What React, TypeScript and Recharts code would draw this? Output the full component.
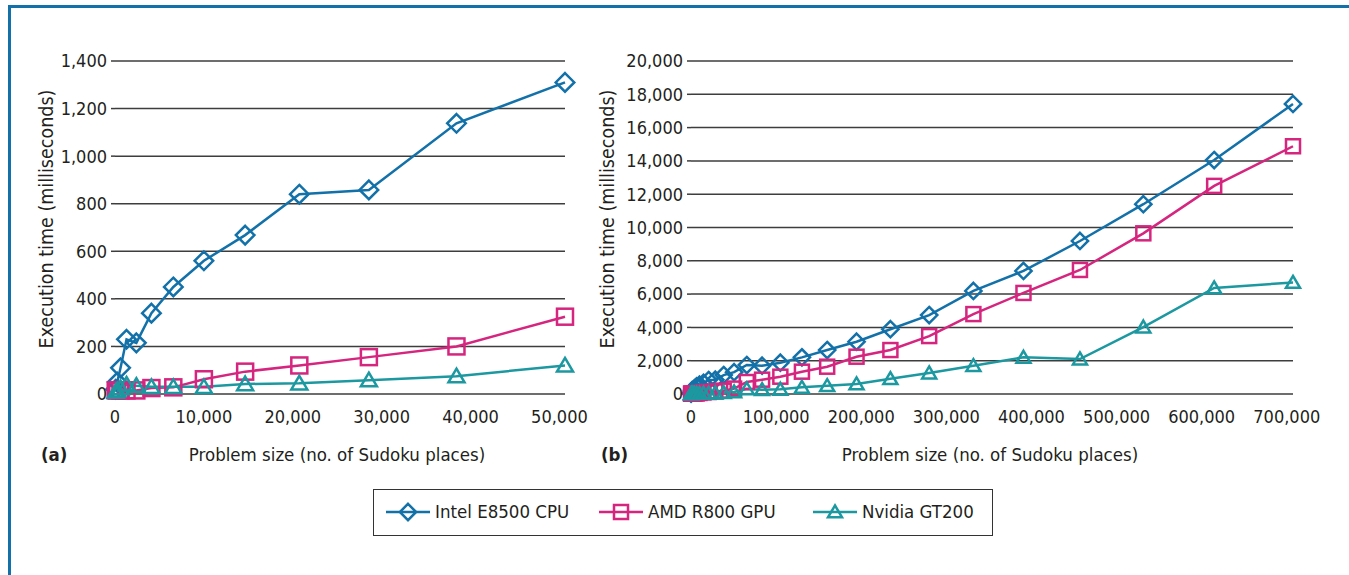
import React from "react";
import { LineChart, Line, XAxis, YAxis, CartesianGrid } from "recharts";

// problem sizes are n^4 Sudoku places, n = 3..29
const sizes = [
  81, 256, 625, 1296, 2401, 4096, 6561, 10000, 14641, 20736, 28561, 38416, 50625,
  65536, 83521, 104976, 130321, 160000, 194481, 234256, 279841, 331776, 390625,
  456976, 531441, 614656, 707281,
];
const intelMs = [
  20, 50, 110, 230, 215, 340, 450, 560, 668, 840, 858, 1138, 1310,
  1740, 1700, 1880, 2200, 2640, 3140, 3890, 4740, 6190, 7390, 9190, 11400, 14050, 17420,
];
const amdMs = [
  15, 15, 15, 15, 15, 25, 28, 62, 94, 120, 155, 200, 325,
  720, 860, 1040, 1340, 1640, 2240, 2640, 3480, 4800, 6070, 7450, 9650, 12500, 14880,
];
const nvidiaMs = [
  10, 15, 25, 40, 35, 30, 30, 30, 42, 45, 58, 75, 120,
  300, 260, 280, 400, 500, 600, 920, 1260, 1700, 2200, 2100, 4020, 6370, 6700,
];

const leftXTicks = [0, 10000, 20000, 30000, 40000, 50000];
const leftYTicks = [0, 200, 400, 600, 800, 1000, 1200, 1400];
const rightXTicks = [0, 100000, 200000, 300000, 400000, 500000, 600000, 700000];
const rightYTicks = [0, 2000, 4000, 6000, 8000, 10000, 12000, 14000, 16000, 18000, 20000];

const seriesNames = ["Intel E8500 CPU", "AMD R800 GPU", "Nvidia GT200"];

const COLORS = { intel: "#1371a9", amd: "#d5257f", nvidia: "#1c98a0" };
const FONT = "'Liberation Sans Narrow', 'DejaVu Sans Condensed', 'Arial Narrow', sans-serif";
const INK = "#231f20";
const GRID = "#3d3d3d";

const rows = sizes.map((size, i) => ({
  size,
  intel: intelMs[i],
  amd: amdMs[i],
  nvidia: nvidiaMs[i],
}));
const leftRows = rows.slice(0, 13);

const fmt = (v: number) => v.toLocaleString("en-US");

function marker(kind: string, cx: number, cy: number, color: string, s: number, key?: any) {
  if (cx == null || cy == null) return <g key={key} />;
  if (kind === "diamond") {
    const r = s * 0.58;
    return (
      <path key={key} d={`M${cx},${cy - r}L${cx + r},${cy}L${cx},${cy + r}L${cx - r},${cy}Z`}
        fill="none" stroke={color} strokeWidth={2.5} />
    );
  }
  if (kind === "square") {
    const h = s / 2;
    return <rect key={key} x={cx - h} y={cy - h} width={s} height={s} fill="none" stroke={color} strokeWidth={2.5} />;
  }
  const w = s / 2;
  const ht = s * 0.85;
  return (
    <path key={key} d={`M${cx},${cy - ht * 0.55}L${cx + w},${cy + ht * 0.45}L${cx - w},${cy + ht * 0.45}Z`}
      fill="none" stroke={color} strokeWidth={2.5} />
  );
}

const series = [
  { key: "intel", kind: "diamond", color: COLORS.intel },
  { key: "amd", kind: "square", color: COLORS.amd },
  { key: "nvidia", kind: "triangle", color: COLORS.nvidia },
];

function Panel({ data, left, width, yAxisWidth, rightMargin, xMax, xTicks, yMax, yTicks, size }: any) {
  return (
    <div style={{ position: "absolute", left, top: 0 }}>
      <LineChart width={width} height={470} data={data}
        margin={{ top: 61, right: rightMargin, bottom: 46, left: 0 }}>
        <CartesianGrid vertical={false} stroke={GRID} strokeWidth={1.5} />
        <XAxis dataKey="size" type="number" domain={[0, xMax]} ticks={xTicks} height={30}
          axisLine={false} tickLine={false} tickSize={0} tickMargin={16} tickFormatter={fmt}
          tick={{ fill: INK, fontSize: 18, fontFamily: FONT }} interval={0} />
        <YAxis type="number" domain={[0, yMax]} ticks={yTicks} width={yAxisWidth}
          axisLine={false} tickLine={{ stroke: GRID, strokeWidth: 1.5 }} tickSize={4} tickMargin={4}
          tickFormatter={fmt} tick={{ fill: INK, fontSize: 18, fontFamily: FONT }} interval={0} />
        {series.map((s) => (
          <Line key={s.key} dataKey={s.key} type="linear" stroke={s.color} strokeWidth={2.5}
            isAnimationActive={false}
            dot={(p: any) => marker(s.kind, p.cx, p.cy, s.color, size, p.index)}
            activeDot={false} />
        ))}
      </LineChart>
    </div>
  );
}

const text: React.CSSProperties = {
  position: "absolute",
  fontFamily: FONT,
  fontSize: 18.5,
  lineHeight: "20px",
  color: INK,
  whiteSpace: "nowrap",
};

function LegendIcon({ kind, color }: any) {
  return (
    <svg width={44} height={24} style={{ display: "block" }}>
      <line x1={0} y1={12} x2={44} y2={12} stroke={color} strokeWidth={2.5} />
      {marker(kind, 22, 12, color, 14)}
    </svg>
  );
}

export default function App() {
  const legendPos = [
    { icon: 386, label: 435 },
    { icon: 599, label: 648 },
    { icon: 813, label: 862 },
  ];
  return (
    <div style={{ position: "fixed", left: 0, top: 0, width: 1349, height: 575, background: "#fff", overflow: "hidden" }}>
      <div style={{ position: "absolute", left: 8, top: 5, width: 1400, height: 600,
        borderTop: "3px solid #1371a9", borderLeft: "3px solid #1371a9" }} />

      <Panel data={leftRows} left={0} width={600} yAxisWidth={115} rightMargin={35}
        xMax={50625} xTicks={leftXTicks} yMax={1400} yTicks={leftYTicks} size={16} />
      <Panel data={rows} left={580} width={765} yAxisWidth={111} rightMargin={52}
        xMax={707281} xTicks={rightXTicks} yMax={20000} yTicks={rightYTicks} size={14} />

      <div style={{ ...text, fontSize: 19.5, left: 47, top: 219, transform: "translate(-50%, -50%) rotate(-90deg)" }}>
        Execution time (milliseconds)
      </div>
      <div style={{ ...text, fontSize: 19.5, left: 608, top: 219, transform: "translate(-50%, -50%) rotate(-90deg)" }}>
        Execution time (milliseconds)
      </div>

      <div style={{ ...text, left: 337, top: 445, transform: "translateX(-50%)" }}>
        Problem size (no. of Sudoku places)
      </div>
      <div style={{ ...text, left: 990, top: 445, transform: "translateX(-50%)" }}>
        Problem size (no. of Sudoku places)
      </div>
      <div style={{ ...text, left: 41, top: 445, fontWeight: "bold" }}>(a)</div>
      <div style={{ ...text, left: 601, top: 445, fontWeight: "bold" }}>(b)</div>

      <div style={{ position: "absolute", left: 373, top: 489, width: 620, height: 47,
        border: "1px solid #333", boxSizing: "border-box" }} />
      {series.map((s, i) => (
        <React.Fragment key={s.key}>
          <div style={{ position: "absolute", left: legendPos[i].icon, top: 500 }}>
            <LegendIcon kind={s.kind} color={s.color} />
          </div>
          <div style={{ ...text, left: legendPos[i].label, top: 502 }}>{seriesNames[i]}</div>
        </React.Fragment>
      ))}
    </div>
  );
}
